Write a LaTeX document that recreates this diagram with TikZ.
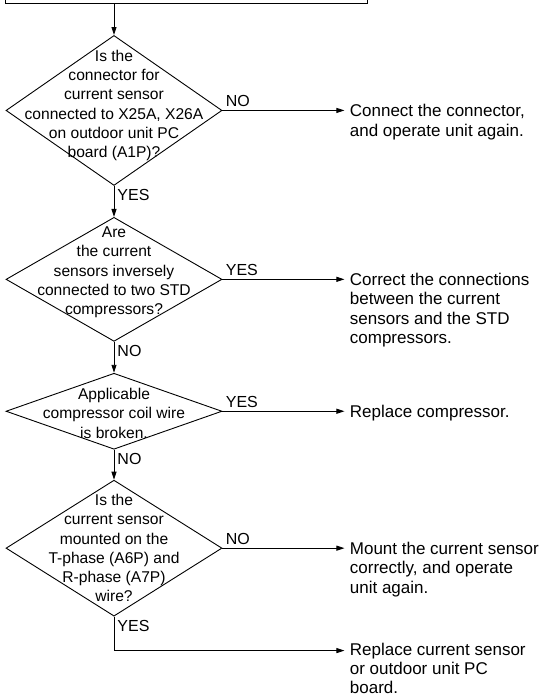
\documentclass[tikz,border=0pt]{standalone}
\usepackage{fontspec}
\setmainfont{Liberation Sans}
\usetikzlibrary{arrows.meta,positioning,shapes.geometric}

\begin{document}
\begin{tikzpicture}[
  x=1pt, y=1pt,
  font=\fontsize{17}{19.3}\selectfont,
  line width=0.9pt,
  node distance=31pt,
  dec/.style={draw, diamond, minimum width=216pt, inner sep=0pt},
  qtext/.style={align=center, inner sep=0pt, font=\fontsize{15.6}{19.3}\selectfont},
  act/.style={align=left, anchor=north west, inner xsep=5pt, inner ysep=0pt},
  arr/.style={-{Triangle[length=8pt, width=5pt]}},
  lbl/.style={inner sep=3pt, font=\fontsize{16}{19}\selectfont}
]
  \useasboundingbox (0,0) rectangle (548,-696);
  \node[draw, anchor=south west, minimum width=362pt, minimum height=60pt] (prev) at (5,-4) {};

  \node[dec, minimum height=150pt, anchor=north] (q1) at (114,-35) {};
  \node[dec, minimum height=124pt, below=of q1] (q2) {};
  \node[dec, minimum height=76pt, below=of q2] (q3) {};
  \node[dec, minimum height=136pt, below=30pt of q3] (q4) {};

  \node[qtext, yshift=5pt] at (q1) {Is the\\connector for\\current sensor\\connected to X25A, X26A\\on outdoor unit PC\\board (A1P)?};
  \node[qtext, yshift=7pt] at (q2) {Are\\the current\\sensors inversely\\connected to two STD\\compressors?};
  \node[qtext, yshift=-2pt] at (q3) {Applicable\\compressor coil wire\\is broken.};
  \node[qtext] at (q4) {Is the\\current sensor\\mounted on the\\T-phase (A6P) and\\R-phase (A7P)\\wire?};

  \node[act, yshift=6.5pt] (a1) at ([xshift=122pt]q1.east) {Connect the connector,\\and operate unit again.};
  \node[act, yshift=6.5pt] (a2) at ([xshift=122pt]q2.east) {Correct the connections\\between the current\\sensors and the STD\\compressors.};
  \node[act, yshift=6.5pt] (a3) at ([xshift=122pt]q3.east) {Replace compressor.};
  \node[act, yshift=6.5pt] (a4) at ([xshift=122pt]q4.east) {Mount the current sensor\\correctly, and operate\\unit again.};
  \coordinate[below=34pt of q4.south] (turn);
  \node[act, yshift=8pt] (a5) at (turn -| a4.west) {Replace current sensor\\or outdoor unit PC\\board.};

  \draw[arr] (prev.south -| q1.north) -- (q1.north);
  \draw[arr] (q1.south) -- node[lbl, pos=0, anchor=north west] {YES} (q2.north);
  \draw[arr] (q2.south) -- node[lbl, pos=0, anchor=north west] {NO} (q3.north);
  \draw[arr] (q3.south) -- node[lbl, pos=0, anchor=north west] {NO} (q4.north);
  \draw[arr] (q1.east) -- node[lbl, pos=0, anchor=south west] {NO} (q1.east -| a1.west);
  \draw[arr] (q2.east) -- node[lbl, pos=0, anchor=south west] {YES} (q2.east -| a2.west);
  \draw[arr] (q3.east) -- node[lbl, pos=0, anchor=south west] {YES} (q3.east -| a3.west);
  \draw[arr] (q4.east) -- node[lbl, pos=0, anchor=south west] {NO} (q4.east -| a4.west);
  \draw[arr] (q4.south) -- node[lbl, pos=0, anchor=north west] {YES} (turn) -- (turn -| a5.west);
\end{tikzpicture}
\end{document}
